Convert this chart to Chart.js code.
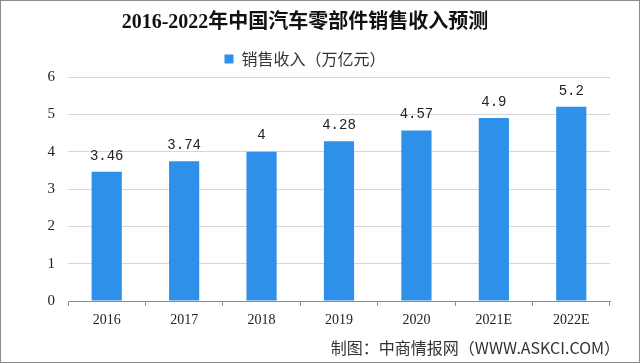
<!DOCTYPE html>
<html>
<head>
<meta charset="utf-8">
<script src="https://cdn.jsdelivr.net/npm/chart.js@4/dist/chart.umd.min.js"></script>
<style>
  body { margin: 0; background: #fff; }
  #wrap { width: 640px; height: 363px; }
</style>
</head>
<body>
<div id="wrap"><canvas id="myChart" width="640" height="363"></canvas></div>
<script>
// data
const years = ["2016", "2017", "2018", "2019", "2020", "2021E", "2022E"];
const sales = [3.46, 3.74, 4, 4.28, 4.57, 4.9, 5.2];
const yTicks = [0, 1, 2, 3, 4, 5, 6];

const titleText = "2016-2022年中国汽车零部件销售收入预测";
const seriesName = "销售收入（万亿元）";
const footerText = "制图：中商情报网（WWW.ASKCI.COM）";

const barColor = "#2E90E8";
const serif = "'Liberation Serif', 'Noto Sans CJK SC', serif";
const sans = "'Noto Sans CJK SC', 'Liberation Sans', sans-serif";

// value labels over the bars
const valueLabels = {
  id: "valueLabels",
  afterDatasetsDraw(chart) {
    const { ctx } = chart;
    const meta = chart.getDatasetMeta(0);
    ctx.save();
    ctx.font = "14px 'Liberation Mono', monospace";
    ctx.fillStyle = "#222";
    ctx.textAlign = "center";
    ctx.textBaseline = "middle";
    meta.data.forEach((bar, i) => {
      ctx.fillText(String(sales[i]), bar.x, bar.y - 16);
    });
    ctx.restore();
  }
};

// source line and outer frame
const frame = {
  id: "frame",
  afterDraw(chart) {
    const { ctx, width, height } = chart;
    ctx.save();
    ctx.font = "16px " + sans;
    ctx.fillStyle = "#333";
    ctx.textAlign = "right";
    ctx.textBaseline = "middle";
    ctx.fillText(footerText, 620, 348);
    ctx.strokeStyle = "#8c8c8c";
    ctx.lineWidth = 1;
    ctx.strokeRect(0.5, 0.5, width - 1, height - 1);
    ctx.restore();
  }
};

new Chart(document.getElementById("myChart"), {
  type: "bar",
  data: {
    labels: years,
    datasets: [{
      label: seriesName,
      data: sales,
      backgroundColor: barColor,
      borderWidth: 0,
      categoryPercentage: 1,
      barPercentage: 0.39
    }]
  },
  options: {
    responsive: false,
    animation: false,
    layout: {
      padding: { left: 0, right: 30, bottom: 32 }
    },
    scales: {
      x: {
        grid: {
          offset: true,
          drawOnChartArea: false,
          drawTicks: true,
          tickLength: 5,
          color: "#8c8c8c"
        },
        border: { color: "#8c8c8c" },
        ticks: {
          padding: 6,
          color: "#222",
          font: { family: serif, size: 14 }
        },
        afterFit(scale) { scale.height = 30; }
      },
      y: {
        min: 0,
        max: 6,
        afterBuildTicks(scale) {
          scale.ticks = yTicks.map(v => ({ value: v }));
        },
        grid: { color: "#d6d6d6", drawTicks: false },
        border: { display: false },
        ticks: {
          padding: 13,
          color: "#222",
          font: { family: serif, size: 15 }
        },
        afterFit(scale) { scale.width = 68; }
      }
    },
    plugins: {
      title: {
        display: true,
        text: titleText,
        color: "#111",
        font: { family: serif, size: 20, weight: "bold" },
        padding: { top: 11, bottom: 7 }
      },
      legend: {
        display: true,
        labels: {
          boxWidth: 9,
          boxHeight: 9,
          padding: 9,
          color: "#333",
          font: { family: sans, size: 16 }
        }
      },
      tooltip: { enabled: false }
    }
  },
  plugins: [valueLabels, frame]
});
</script>
</body>
</html>
